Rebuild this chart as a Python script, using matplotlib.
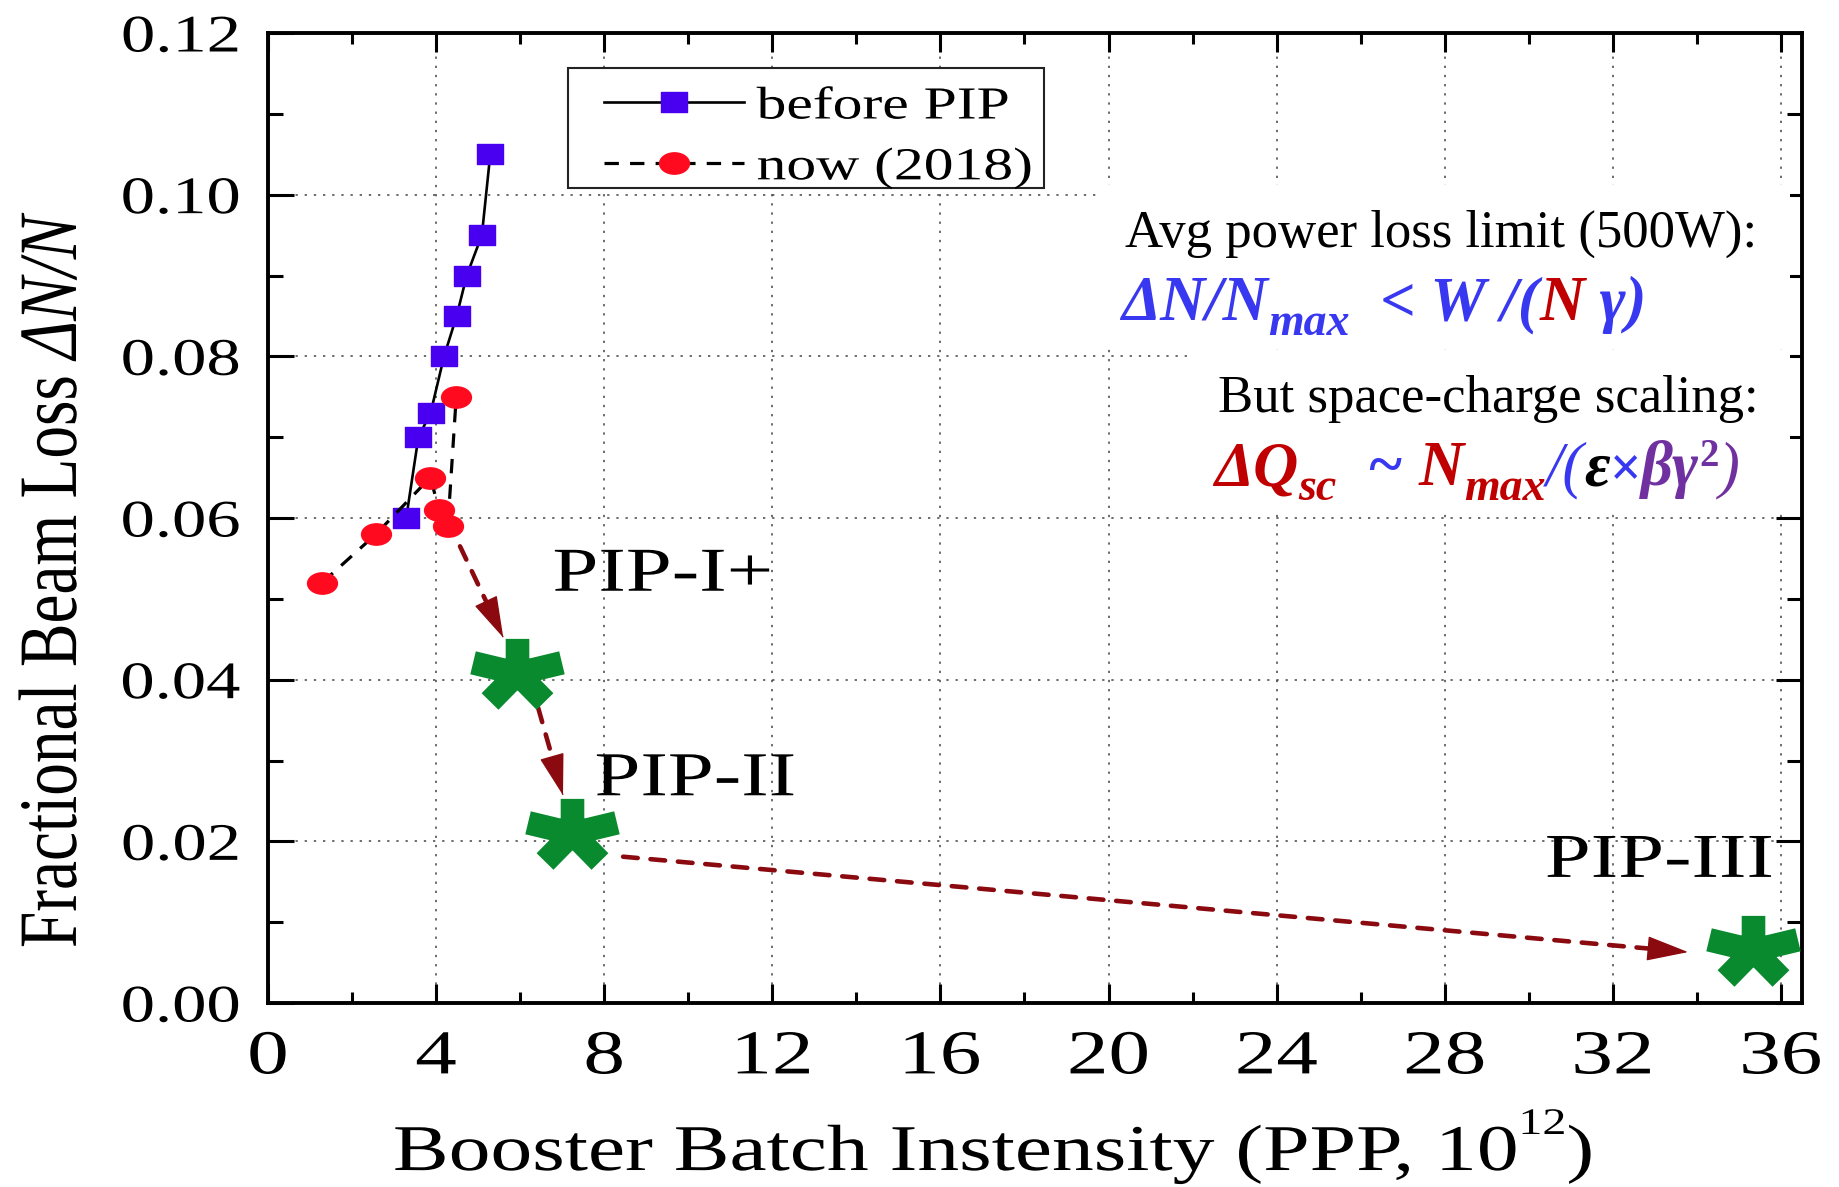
"""Booster batch intensity vs fractional beam loss, with PIP upgrade targets."""

import matplotlib
matplotlib.use("Agg")
import matplotlib.pyplot as plt
import numpy as np
from matplotlib.markers import MarkerStyle
from matplotlib.patches import Rectangle
from matplotlib.path import Path
from matplotlib.patheffects import AbstractPathEffect
from matplotlib.ticker import FormatStrFormatter, MultipleLocator
from matplotlib.transforms import Affine2D

W_PX, H_PX, DPI = 1839, 1187, 100
SERIF = ["Liberation Serif", "DejaVu Serif"]

plt.rcParams["font.family"] = SERIF

# loss vs intensity (1e12 protons per pulse)
before_pip_x = [3.29, 3.58, 3.87, 4.19, 4.49, 4.73, 5.09, 5.29]
before_pip_y = [0.060, 0.070, 0.073, 0.080, 0.085, 0.090, 0.095, 0.105]
now_2018_x = [1.29, 2.57, 3.86, 4.08, 4.28, 4.48]
now_2018_y = [0.052, 0.058, 0.065, 0.061, 0.059, 0.075]
series_labels = ["before PIP", "now (2018)"]

# upgrade targets
stage_names = ["PIP-I+", "PIP-II", "PIP-III"]
stage_x = [5.92, 7.23, 35.33]
stage_y = [0.0408, 0.0210, 0.0066]
stage_label_x = [6.77, 7.77, 30.38]
stage_label_y = [0.0510, 0.0257, 0.0156]

arrow_start = [(4.57, 0.0565), (6.43, 0.0365), (8.45, 0.0181)]
arrow_end = [(5.60, 0.0452), (7.02, 0.0257), (33.79, 0.0063)]

x_ticks = np.arange(0, 37, 4)
y_ticks = np.arange(0, 0.121, 0.02)

BLUE_MK = "#4A00F0"
RED_MK = "#FF0A1E"
GREEN = "#0A8A2E"
ARROW = "#8B0A10"
TEXT_BLUE = "#3838F0"
TEXT_RED = "#C00000"
PURPLE = "#7030A0"


class Stretch(AbstractPathEffect):
    """Scale glyph outlines in font space before they are placed."""

    def __init__(self, sx=1.0, sy=1.0, anchor=0.0):
        super().__init__()
        self.sx, self.sy, self.anchor = sx, sy, anchor

    def draw_path(self, renderer, gc, tpath, affine, rgbFace=None):
        x0 = 0.0
        if self.anchor:
            ext = tpath.get_extents()
            x0 = ext.x0 + self.anchor * ext.width
        pre = Affine2D().translate(-x0, 0).scale(self.sx, self.sy).translate(x0, 0)
        renderer.draw_path(gc, tpath, pre + affine, rgbFace)


def wide_marker(path, sx, capstyle=None):
    return MarkerStyle(Path(path.vertices * [sx, 1.0], path.codes), capstyle=capstyle)


square = Path(Path.unit_rectangle().vertices - 0.5, Path.unit_rectangle().codes)
ellipse = Path.unit_circle()
arm_angles = np.deg2rad([0, 72, 144, 216, 288])
star_verts, star_codes = [], []
for a in arm_angles:
    star_verts += [(0.0, 0.0), (np.sin(a), np.cos(a))]
    star_codes += [Path.MOVETO, Path.LINETO]
asterisk = Path(np.array(star_verts), star_codes)

fig = plt.figure(figsize=(W_PX / DPI, H_PX / DPI), dpi=DPI, facecolor="white")
ax = fig.add_axes([0.1457, 0.1550, 0.8342, 0.8172])
renderer = fig.canvas.get_renderer()

line_before, = ax.plot(before_pip_x, before_pip_y, color="black", lw=1.9,
                       marker=wide_marker(square, 1.36), ms=19, mfc=BLUE_MK, mec=BLUE_MK,
                       zorder=3)
line_now, = ax.plot(now_2018_x, now_2018_y, color="black", lw=2.3, linestyle=(0, (4.5, 3.5)),
                    marker=wide_marker(ellipse, 1.4), ms=21.5, mfc=RED_MK, mec=RED_MK,
                    zorder=3)

# dashed shafts, then solid heads at the tips
for (x0, y0), (x1, y1) in zip(arrow_start, arrow_end):
    ax.annotate("", xy=(x1, y1), xytext=(x0, y0),
                arrowprops=dict(arrowstyle="-", color=ARROW, lw=3.3,
                                linestyle=(0, (3.2, 2.8)), shrinkA=0, shrinkB=8),
                zorder=3)
    bx, by = x1 - 0.01 * (x1 - x0), y1 - 0.01 * (y1 - y0)
    ax.annotate("", xy=(x1, y1), xytext=(bx, by),
                arrowprops=dict(arrowstyle="-|>,head_length=27,head_width=8",
                                mutation_scale=1, color=ARROW, lw=1.0,
                                shrinkA=0, shrinkB=0),
                zorder=3)

ax.plot(stage_x, stage_y, linestyle="none", marker=wide_marker(asterisk, 1.35, "butt"),
        ms=64, mew=17, mec=GREEN, mfc="none", zorder=4)

for name, lx, ly in zip(stage_names, stage_label_x, stage_label_y):
    ax.text(lx, ly, name, fontsize=45, ha="left", va="baseline", zorder=5,
            path_effects=[Stretch(1.32)])

# axes, ticks and grid
ax.set_xlim(0, 36.5)
ax.set_ylim(0, 0.12)
ax.set_xticks(x_ticks)
ax.set_yticks(y_ticks)
ax.xaxis.set_minor_locator(MultipleLocator(2))
ax.yaxis.set_minor_locator(MultipleLocator(0.01))
ax.yaxis.set_major_formatter(FormatStrFormatter("%.2f"))
ax.tick_params(which="both", direction="in", top=True, right=True, width=2.2, color="black")
ax.tick_params(axis="x", which="major", length=14, labelsize=45, pad=19)
ax.tick_params(axis="x", which="minor", length=8)
ax.tick_params(axis="y", which="major", length=19, labelsize=38, pad=20)
ax.tick_params(axis="y", which="minor", length=11)
for spine in ax.spines.values():
    spine.set_linewidth(2.8)
ax.set_axisbelow(True)
ax.grid(True, which="major", linestyle=(0, (1.5, 4.5)), linewidth=1.1, color="#444444")

for lab in ax.get_xticklabels():
    lab.set_path_effects([Stretch(1.33, anchor=0.5)])
for lab in ax.get_yticklabels():
    lab.set_path_effects([Stretch(1.3, anchor=1.0)])

# x label: main text, raised exponent, closing bracket
XL_SX = 1.28
ax.set_xlabel("Booster Batch Instensity (PPP, 10", fontsize=47, ha="left", va="baseline")
ax.xaxis.set_label_coords((393 - 268) / 1534, (1003 - 1170) / 970)
ax.xaxis.label.set_path_effects([Stretch(XL_SX)])
bb = ax.xaxis.label.get_window_extent(renderer)
cur = bb.x0 + XL_SX * bb.width
for s, size, rise in [("12", 27, 36), (")", 47, 0)]:
    t = fig.text(cur / W_PX, (H_PX - 1170 + rise) / H_PX, s, fontsize=size, ha="left",
                 va="baseline", path_effects=[Stretch(XL_SX)])
    tb = t.get_window_extent(renderer)
    cur = tb.x0 + XL_SX * tb.width

# y label: upright words followed by italic ΔN/N
YL_SY = 1.27
ax.set_ylabel("Fractional Beam Loss ", fontsize=47, ha="left", va="baseline")
ax.yaxis.set_label_coords((76 - 268) / 1534, (1003 - 948) / 970)
ax.yaxis.label.set_path_effects([Stretch(sy=YL_SY)])
yb = ax.yaxis.label.get_window_extent(renderer)
fig.text(76 / W_PX, yb.y1 / H_PX, "ΔN/N", fontsize=47, fontstyle="italic", rotation=90,
         rotation_mode="anchor", ha="left", va="baseline", path_effects=[Stretch(sy=YL_SY)])

# legend: frame drawn separately so the handle inset matches
ax.add_patch(Rectangle((0.1956, 0.8402), 0.3103, 0.1237, transform=ax.transAxes,
                       facecolor="white", edgecolor="#222222", lw=1.5, zorder=6))
leg = ax.legend(handles=[line_before, line_now], labels=series_labels, loc="upper left",
                bbox_to_anchor=((604 - 268) / 1534, (1003 - 86) / 970), borderaxespad=0,
                fontsize=33, handlelength=3.05, handletextpad=0.28, borderpad=0,
                labelspacing=0.4, frameon=False)
leg.set_zorder(7)
for t in leg.get_texts():
    t.set_path_effects([Stretch(1.3)])

# white panels behind the scaling notes
for bx, by, bw, bh in [(0.5424, 0.6753, 0.4498, 0.1680), (0.6023, 0.5062, 0.3899, 0.1670)]:
    ax.add_patch(Rectangle((bx, by), bw, bh, transform=ax.transAxes, facecolor="white",
                           edgecolor="none", zorder=1))

fig.text(1757 / W_PX, 1 - 247 / H_PX, "Avg power loss limit (500W):", fontsize=38,
         ha="right", va="baseline")
fig.text(1759 / W_PX, 1 - 412 / H_PX, "But space-charge scaling:", fontsize=38,
         ha="right", va="baseline")


def text_run(x_px, base_px, pieces):
    """Lay out coloured pieces one after another on a common baseline."""
    cur = x_px
    for s, color, size, rise, weight, style in pieces:
        t = fig.text(cur / W_PX, 1 - (base_px - rise) / H_PX, s, color=color, fontsize=size,
                     fontweight=weight, fontstyle=style, ha="left", va="baseline")
        cur = t.get_window_extent(renderer).x1


text_run(1121, 320, [
    ("ΔN/N", TEXT_BLUE, 45, 0, "bold", "italic"),
    ("max", TEXT_BLUE, 33, -15, "bold", "italic"),
    ("  < W /(", TEXT_BLUE, 45, 0, "bold", "italic"),
    ("N", TEXT_RED, 45, 0, "bold", "italic"),
    (" γ)", TEXT_BLUE, 45, 0, "bold", "italic"),
])
text_run(1214, 485, [
    ("ΔQ", TEXT_RED, 45, 0, "bold", "italic"),
    ("sc", TEXT_RED, 33, -15, "bold", "italic"),
    ("  ~ ", TEXT_BLUE, 45, 0, "bold", "italic"),
    ("N", TEXT_RED, 45, 0, "bold", "italic"),
    ("max", TEXT_RED, 33, -15, "bold", "italic"),
    ("/(", TEXT_BLUE, 45, 0, "normal", "italic"),
    ("ε", "black", 45, 0, "bold", "italic"),
    ("×", TEXT_BLUE, 40, 0, "bold", "normal"),
    ("βγ", PURPLE, 45, 0, "bold", "italic"),
    ("2", PURPLE, 28, 19, "bold", "normal"),
    (")", PURPLE, 45, 0, "normal", "italic"),
])

fig.savefig("out.png", dpi=DPI, facecolor="white")
